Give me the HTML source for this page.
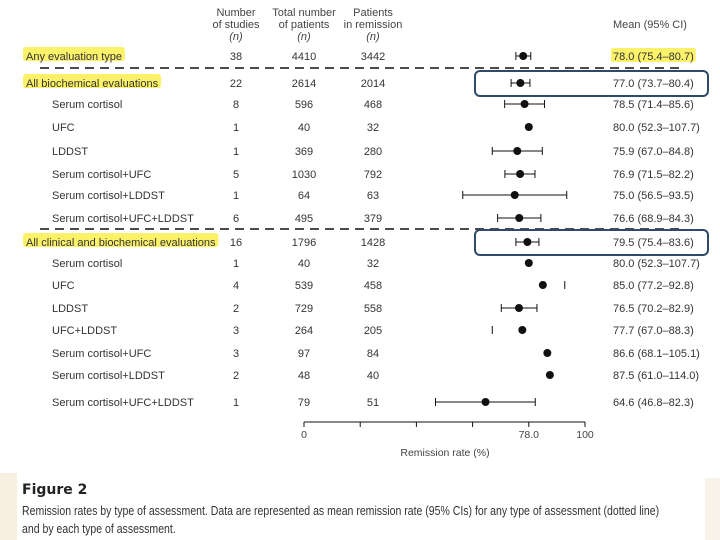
<!DOCTYPE html>
<html><head><meta charset="utf-8"><style>
body{margin:0;background:#fff;}
#wrap{position:relative;width:720px;height:540px;overflow:hidden;background:#fff;font-family:"Liberation Sans",sans-serif;}
svg text{font-family:"Liberation Sans",sans-serif;}
</style></head><body>
<div id="wrap">
<div style="position:absolute;left:0;top:473px;width:17px;height:67px;background:#f6efe2"></div>
<div style="position:absolute;left:705px;top:478px;width:15px;height:62px;background:#f8f3ea"></div>
<svg id="chart" width="720" height="540" style="position:absolute;left:0;top:0"></svg>
<div style="position:absolute;left:22px;top:482px;font-family:'DejaVu Sans',sans-serif;font-weight:bold;font-size:14px;color:#222">Figure 2</div>
<div style="position:absolute;left:22px;top:502px;white-space:nowrap;font-family:'Liberation Sans',sans-serif;font-size:12.6px;line-height:18px;color:#333;transform:scaleX(0.835);transform-origin:0 0">Remission rates by type of assessment. Data are represented as mean remission rate (95% CIs) for any type of assessment (dotted line)<br>and by each type of assessment.</div>
</div>
<script>
const labels=["Any evaluation type","All biochemical evaluations","Serum cortisol","UFC","LDDST","Serum cortisol+UFC","Serum cortisol+LDDST","Serum cortisol+UFC+LDDST","All clinical and biochemical evaluations","Serum cortisol","UFC","LDDST","UFC+LDDST","Serum cortisol+UFC","Serum cortisol+LDDST","Serum cortisol+UFC+LDDST"];
const studies=[38,22,8,1,1,5,1,6,16,1,4,2,3,3,2,1];
const patients=[4410,2614,596,40,369,1030,64,495,1796,40,539,729,264,97,48,79];
const remission=[3442,2014,468,32,280,792,63,379,1428,32,458,558,205,84,40,51];
const means=[78.0,77.0,78.5,80.0,75.9,76.9,75.0,76.6,79.5,80.0,85.0,76.5,77.7,86.6,87.5,64.6];
const lows=[75.4,73.7,71.4,52.3,67.0,71.5,56.5,68.9,75.4,52.3,77.2,70.2,67.0,68.1,61.0,46.8];
const highs=[80.7,80.4,85.6,107.7,84.8,82.2,93.5,84.3,83.6,107.7,92.8,82.9,88.3,105.1,114.0,82.3];
const ciMode=["full","full","full","none","full","full","full","full","full","none","right","full","left","none","none","full"];
const isHeader=[1,1,0,0,0,0,0,0,1,0,0,0,0,0,0,0];
const rowY=[56,83,104,127,151,174,195,218,242,263,285,308,330,353,375,402];
const tickVals=[0,20,40,60,80,100];
const tickLabels=["0","","","","78.0","100"];

const svg=document.getElementById('chart');
const NS='http://www.w3.org/2000/svg';
const x=v=>304+v*2.81;
function mk(tag,attrs,txt){const e=document.createElementNS(NS,tag);for(const k in attrs)e.setAttribute(k,attrs[k]);if(txt!==undefined)e.textContent=txt;svg.appendChild(e);return e;}
const fmt=v=>v.toFixed(1);
[["Number","of studies","(n)",236],["Total number","of patients","(n)",304],["Patients","in remission","(n)",373]].forEach((h,i)=>{
 for(let j=0;j<3;j++){const t=mk('text',{x:h[3],y:16+j*12,'text-anchor':'middle','font-size':11,fill:'#444','font-style':j==2?'italic':'normal'},h[j]);
 }
});
let mh=mk('text',{x:613,y:28,'font-size':11,fill:'#444'},"Mean (95% CI)");

[68,229].forEach(y=>{const l=mk('line',{x1:40,x2:680,y1:y,y2:y,stroke:'#111','stroke-width':1.6,'stroke-dasharray':'9,6'});
});
[1,8].forEach(i=>{const r=mk('rect',{x:475,y:rowY[i]-12,width:233,height:25,rx:5,fill:'none',stroke:'#2e4a6b','stroke-width':2});
});
labels.forEach((lab,i)=>{
 const y=rowY[i];const lx=isHeader[i]?26:52;
 let hl=null;
 if(isHeader[i]){hl=mk('rect',{x:lx-3,y:y-9,width:10,height:14,rx:3,fill:'#fbf26a'});
 }
 const t=mk('text',{x:lx,y:y+4,'font-size':11,fill:'#333'},lab);
 
 if(hl)hl.setAttribute('width',t.getComputedTextLength()+6);
 [[studies[i],236],[patients[i],304],[remission[i],373]].forEach(c=>{const e=mk('text',{x:c[1],y:y+4,'text-anchor':'middle','font-size':11,fill:'#333'},c[0]);
 });
 let mhl=null;
 if(i==0){mhl=mk('rect',{x:611,y:y-8,width:80,height:14,rx:2,fill:'#fbf26a'});}
 const m=mk('text',{x:613,y:y+4,'font-size':11,fill:'#333'},fmt(means[i])+" ("+fmt(lows[i])+"\u2013"+fmt(highs[i])+")");
 
 if(mhl)mhl.setAttribute('width',m.getComputedTextLength()+4);
 const md=ciMode[i];
 if(md=="full"){const l=mk('line',{x1:x(lows[i]),x2:x(highs[i]),y1:y,y2:y,stroke:'#111','stroke-width':1});}
 if(md=="full"||md=="left"){const c=mk('line',{x1:x(lows[i]),x2:x(lows[i]),y1:y-4,y2:y+4,stroke:'#111','stroke-width':1});}
 if(md=="full"||md=="right"){const c=mk('line',{x1:x(highs[i]),x2:x(highs[i]),y1:y-4,y2:y+4,stroke:'#111','stroke-width':1});}
 const d=mk('circle',{cx:x(means[i]),cy:y,r:4,fill:'#111'});
 
});
const ax=mk('line',{x1:x(0),x2:x(100),y1:422,y2:422,stroke:'#111','stroke-width':1});

tickVals.forEach((v,i)=>{const t=mk('line',{x1:x(v),x2:x(v),y1:422,y2:427,stroke:'#111','stroke-width':1});

if(tickLabels[i]){const l=mk('text',{x:x(v),y:438,'text-anchor':'middle','font-size':10.5,fill:'#444'},tickLabels[i]);
}});
const at=mk('text',{x:445,y:456,'text-anchor':'middle','font-size':10.5,fill:'#444'},"Remission rate (%)");

</script>
</body></html>
